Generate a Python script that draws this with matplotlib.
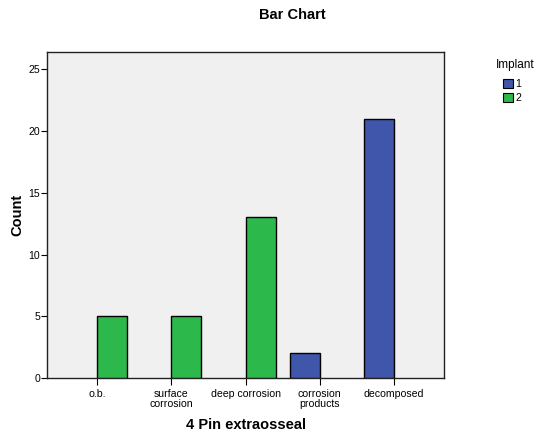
import matplotlib
matplotlib.use("Agg")
import matplotlib.pyplot as plt
from matplotlib.patches import Patch
import numpy as np

plt.rcParams['font.family'] = ['Liberation Sans', 'DejaVu Sans']

categories = ["o.b.", "surface\ncorrosion", "deep corrosion", "corrosion\nproducts", "decomposed"]
implant_1 = [0, 0, 0, 2, 21]
implant_2 = [5, 5, 13, 0, 0]
series_names = ["1", "2"]
colors = ["#3F56AA", "#2DB84B"]

W, H = 537, 437
fig = plt.figure(figsize=(W / 100, H / 100), dpi=100)
ax = fig.add_axes([47 / W, (H - 378) / H, 397 / W, 326 / H])
ax.set_facecolor("#F0F0F0")

x = np.arange(len(categories))
bw = 0.404
for vals, col, sign in [(implant_1, colors[0], -1), (implant_2, colors[1], 1)]:
    vals = np.asarray(vals, dtype=float)
    m = vals > 0
    ax.bar(x[m], vals[m], width=sign * bw, align="edge", color=col,
           edgecolor="black", linewidth=1.0, zorder=3)

ax.set_xlim(-0.673, len(categories) - 1 + 0.673)
ax.set_ylim(0, 26.4)
ax.set_yticks([0, 5, 10, 15, 20, 25])
ax.set_xticks(x)
ax.set_xticklabels(categories, fontsize=7.6, linespacing=0.95)
ax.tick_params(axis="y", labelsize=7.6, length=4, width=0.8, pad=1)
ax.tick_params(axis="x", length=5, width=0.8, pad=3)
for s in ax.spines.values():
    s.set_linewidth(1.0)
    s.set_color("#222222")

ax.set_ylabel("Count", fontsize=10.5, fontweight="bold", labelpad=3)
ax.set_xlabel("4 Pin extraosseal", fontsize=10.5, fontweight="bold", labelpad=7)

fig.text(292 / W, 1 - 15 / H, "Bar Chart", ha="center", va="center",
         fontsize=10.5, fontweight="bold")

fig.text(515 / W, 1 - 65 / H, "Implant", ha="center", va="center", fontsize=8.5)
handles = [Patch(facecolor=c, edgecolor="black", linewidth=0.8) for c in colors]
leg = fig.legend(handles, series_names, loc="upper left",
                 bbox_to_anchor=(503 / W, 1 - 79 / H), frameon=False,
                 fontsize=7.6, handlelength=0.95,
                 handleheight=0.95, handletextpad=0.2, labelspacing=0.35,
                 borderpad=0, borderaxespad=0)

fig.savefig("out.png", dpi=100)
